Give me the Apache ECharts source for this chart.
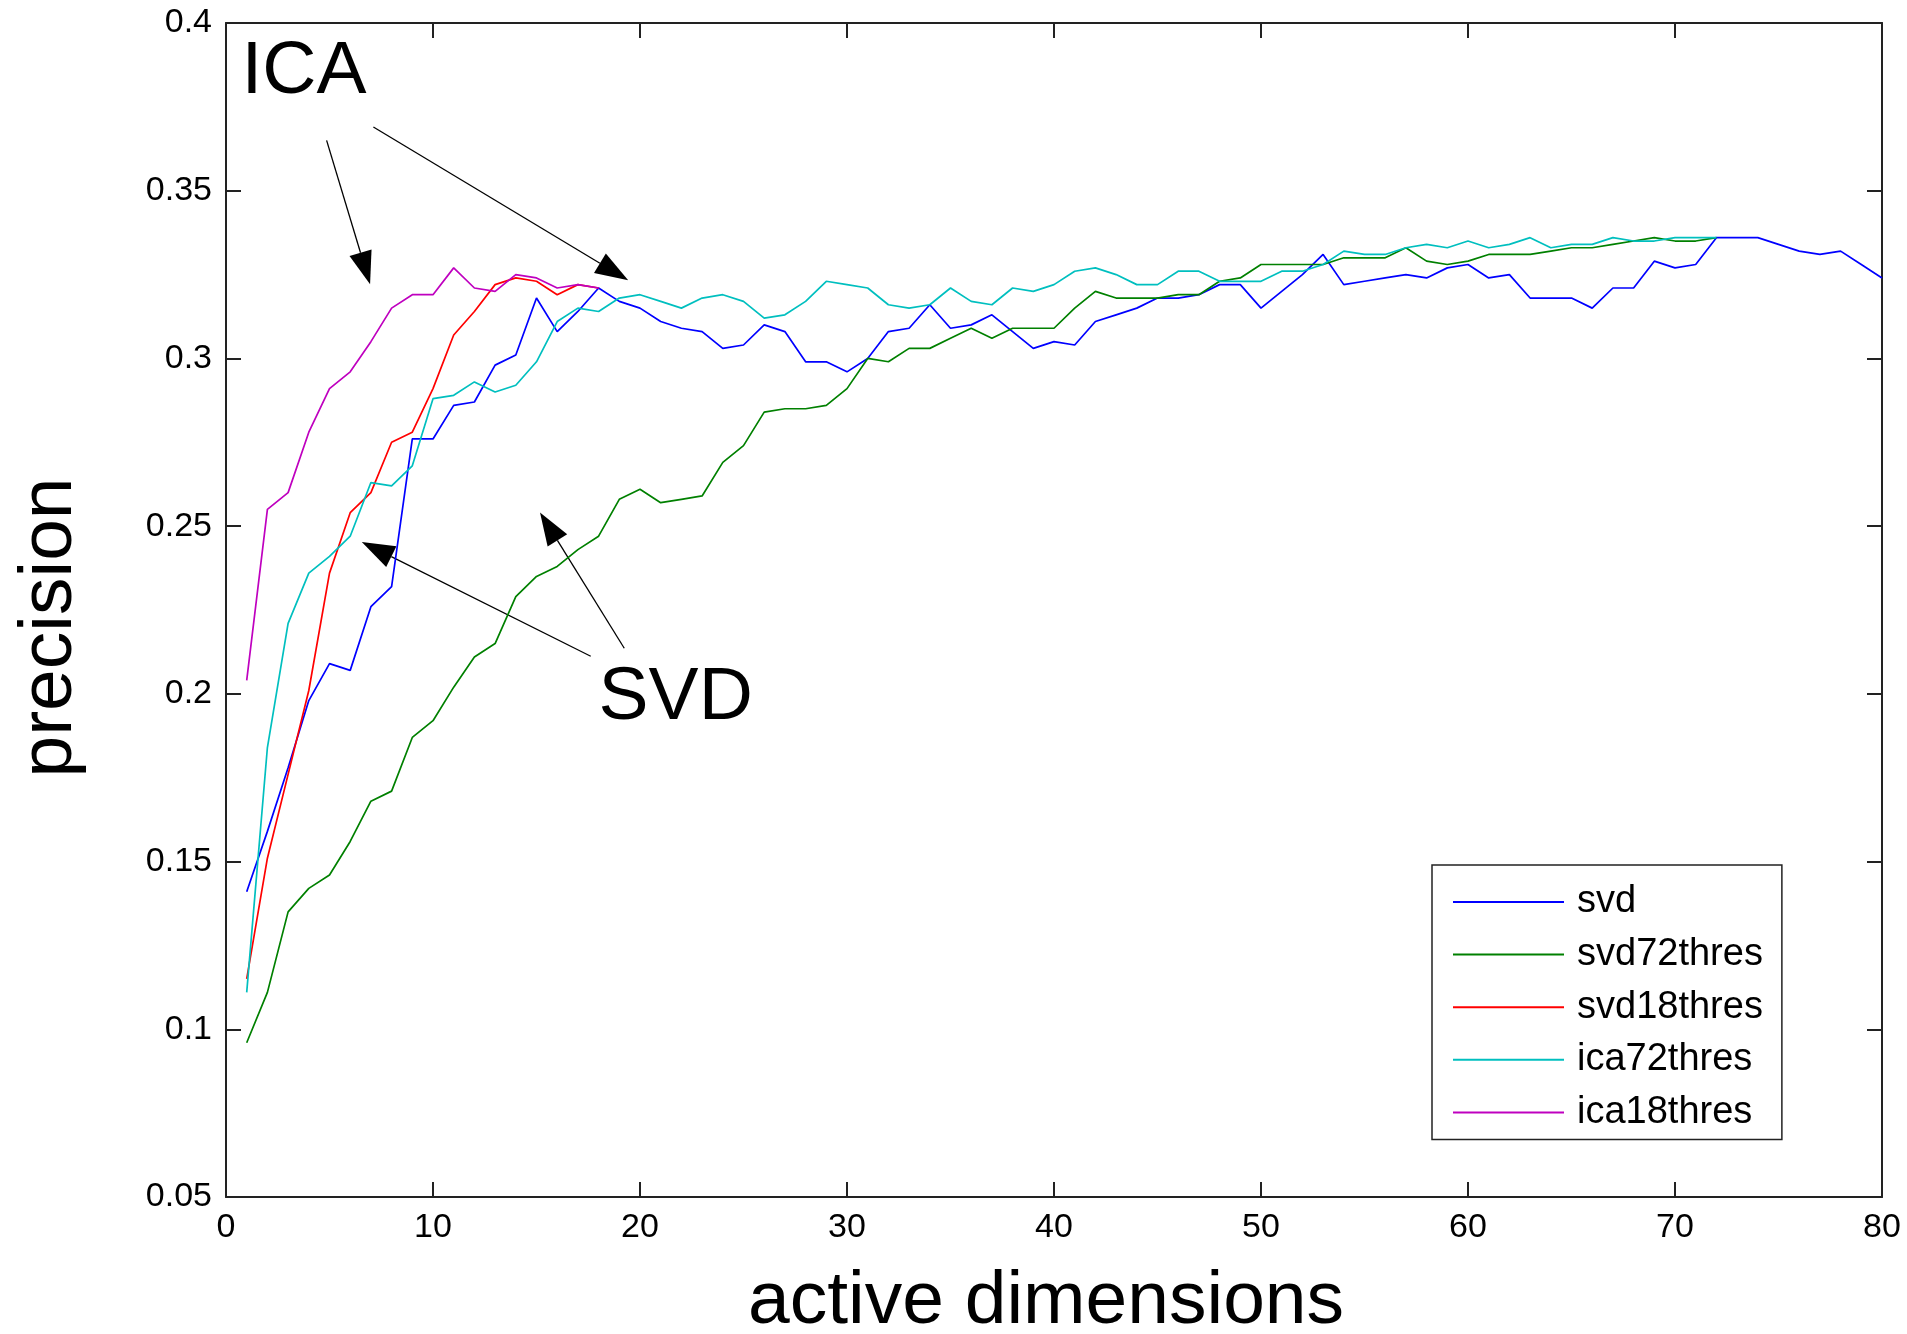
<!DOCTYPE html>
<html>
<head>
<meta charset="utf-8">
<script src="https://cdn.jsdelivr.net/npm/echarts@6/dist/echarts.min.js"></script>
<style>
html, body { margin: 0; padding: 0; background: #fff; }
#main { width: 1907px; height: 1334px; }
</style>
</head>
<body>
<div id="main"></div>
<script>
// names, in drawing order (last one on top)
let SERIES_NAMES = ['svd', 'svd72thres', 'svd18thres', 'ica72thres', 'ica18thres'];
let SERIES_COLORS = ['#0000ff', '#008000', '#ff0000', '#00bfbf', '#bf00bf'];

// precision per number of active dimensions, starting at 1
let svd = [
    0.141, 0.159, 0.178, 0.198, 0.209, 0.207, 0.226, 0.232, 0.276, 0.276,
    0.286, 0.287, 0.298, 0.301, 0.318, 0.308, 0.314, 0.321, 0.317, 0.315,
    0.311, 0.309, 0.308, 0.303, 0.304, 0.310, 0.308, 0.299, 0.299, 0.296,
    0.300, 0.308, 0.309, 0.316, 0.309, 0.310, 0.313, 0.308, 0.303, 0.305,
    0.304, 0.311, 0.313, 0.315, 0.318, 0.318, 0.319, 0.322, 0.322, 0.315,
    0.320, 0.325, 0.331, 0.322, 0.323, 0.324, 0.325, 0.324, 0.327, 0.328,
    0.324, 0.325, 0.318, 0.318, 0.318, 0.315, 0.321, 0.321, 0.329, 0.327,
    0.328, 0.336, 0.336, 0.336, 0.334, 0.332, 0.331, 0.332, 0.328, 0.324
];
let svd72thres = [
    0.096, 0.111, 0.135, 0.142, 0.146, 0.156, 0.168, 0.171, 0.187, 0.192,
    0.202, 0.211, 0.215, 0.229, 0.235, 0.238, 0.243, 0.247, 0.258, 0.261,
    0.257, 0.258, 0.259, 0.269, 0.274, 0.284, 0.285, 0.285, 0.286, 0.291,
    0.300, 0.299, 0.303, 0.303, 0.306, 0.309, 0.306, 0.309, 0.309, 0.309,
    0.315, 0.320, 0.318, 0.318, 0.318, 0.319, 0.319, 0.323, 0.324, 0.328,
    0.328, 0.328, 0.328, 0.330, 0.330, 0.330, 0.333, 0.329, 0.328, 0.329,
    0.331, 0.331, 0.331, 0.332, 0.333, 0.333, 0.334, 0.335, 0.336, 0.335,
    0.335, 0.336
];
let svd18thres = [
    0.115, 0.151, 0.176, 0.201, 0.236, 0.254, 0.260, 0.275, 0.278, 0.291,
    0.307, 0.314, 0.322, 0.324, 0.323, 0.319, 0.322, 0.321
];
let ica72thres = [
    0.111, 0.184, 0.221, 0.236, 0.241, 0.247, 0.263, 0.262, 0.268, 0.288,
    0.289, 0.293, 0.290, 0.292, 0.299, 0.311, 0.315, 0.314, 0.318, 0.319,
    0.317, 0.315, 0.318, 0.319, 0.317, 0.312, 0.313, 0.317, 0.323, 0.322,
    0.321, 0.316, 0.315, 0.316, 0.321, 0.317, 0.316, 0.321, 0.320, 0.322,
    0.326, 0.327, 0.325, 0.322, 0.322, 0.326, 0.326, 0.323, 0.323, 0.323,
    0.326, 0.326, 0.328, 0.332, 0.331, 0.331, 0.333, 0.334, 0.333, 0.335,
    0.333, 0.334, 0.336, 0.333, 0.334, 0.334, 0.336, 0.335, 0.335, 0.336,
    0.336, 0.336
];
let ica18thres = [
    0.204, 0.255, 0.260, 0.278, 0.291, 0.296, 0.305, 0.315, 0.319, 0.319,
    0.327, 0.321, 0.320, 0.325, 0.324, 0.321, 0.322, 0.321
];
let SERIES_VALUES = [svd, svd72thres, svd18thres, ica72thres, ica18thres];

// axis ranges / ticks
let X_MIN = 0, X_MAX = 80, X_STEP = 10;
let Y_MIN = 0.05, Y_MAX = 0.4, Y_STEP = 0.05;

// annotations, in data coordinates: [tail, tip]
let ARROWS = [
    [[4.86, 0.365], [6.96, 0.3221]],
    [[7.12, 0.369], [19.43, 0.3233]],
    [[17.62, 0.2112], [6.56, 0.2453]],
    [[19.24, 0.2136], [15.17, 0.2541]]
];
// text anchor = left edge / top of capitals
let LABELS = [
    {text: 'ICA', at: [0.75, 0.3935]},
    {text: 'SVD', at: [18.0, 0.207]}
];

let FONT = '"Liberation Sans", Arial, Helvetica, sans-serif';
let AXIS_COLOR = '#222';

function toPairs(values) {
    let pairs = [];
    for (let i = 0; i < values.length; i++) {
        pairs.push([i + 1, values[i]]);
    }
    return pairs;
}

function tickFmt(v) {
    return String(parseFloat(v.toFixed(2)));
}

// axis used for the box (top / right), ticks only
function boxAxis(position, min, max, step) {
    return {
        type: 'value',
        position: position,
        min: min,
        max: max,
        interval: step,
        axisLine: {show: true, onZero: false, lineStyle: {color: AXIS_COLOR, width: 2}},
        axisTick: {show: true, inside: true, length: 15, lineStyle: {color: AXIS_COLOR, width: 2}},
        axisLabel: {show: false},
        splitLine: {show: false}
    };
}

let series = [];
for (let i = 0; i < SERIES_NAMES.length; i++) {
    series.push({
        name: SERIES_NAMES[i],
        type: 'line',
        data: toPairs(SERIES_VALUES[i]),
        symbol: 'none',
        showSymbol: false,
        color: SERIES_COLORS[i],
        lineStyle: {color: SERIES_COLORS[i], width: 1.7},
        xAxisIndex: 0,
        yAxisIndex: 0,
        animation: false
    });
}

option = {
    backgroundColor: '#fff',
    animation: false,
    grid: {left: 226, right: 25, top: 23, bottom: 137, containLabel: false, outerBoundsMode: 'none'},
    legend: {
        orient: 'vertical',
        left: 1432,
        top: 865,
        padding: [18, 19, 8, 21],
        itemGap: 14.6,
        itemWidth: 111,
        itemHeight: 2,
        icon: 'rect',
        borderColor: AXIS_COLOR,
        borderWidth: 1.5,
        backgroundColor: '#fff',
        textStyle: {fontFamily: FONT, fontSize: 38, color: '#000', padding: [0, 0, 0, 8]},
        data: SERIES_NAMES
    },
    xAxis: [
        {
            type: 'value',
            position: 'bottom',
            min: X_MIN,
            max: X_MAX,
            interval: X_STEP,
            name: 'active dimensions',
            nameLocation: 'middle',
            nameGap: 68,
            nameTextStyle: {fontFamily: FONT, fontSize: 75, color: '#000', padding: [0, 16, 0, 0]},
            axisLine: {show: true, onZero: false, lineStyle: {color: AXIS_COLOR, width: 2}},
            axisTick: {show: true, inside: true, length: 15, lineStyle: {color: AXIS_COLOR, width: 2}},
            axisLabel: {fontFamily: FONT, fontSize: 34, color: '#000', margin: 14},
            splitLine: {show: false}
        },
        boxAxis('top', X_MIN, X_MAX, X_STEP)
    ],
    yAxis: [
        {
            type: 'value',
            position: 'left',
            min: Y_MIN,
            max: Y_MAX,
            interval: Y_STEP,
            name: 'precision',
            nameLocation: 'middle',
            nameGap: 138,
            nameTextStyle: {fontFamily: FONT, fontSize: 75, color: '#000', padding: [0, 35, 0, 0]},
            axisLine: {show: true, onZero: false, lineStyle: {color: AXIS_COLOR, width: 2}},
            axisTick: {show: true, inside: true, length: 15, lineStyle: {color: AXIS_COLOR, width: 2}},
            axisLabel: {fontFamily: FONT, fontSize: 34, color: '#000', margin: 14, formatter: tickFmt},
            splitLine: {show: false}
        },
        boxAxis('right', Y_MIN, Y_MAX, Y_STEP)
    ],
    series: series
};

let myChart = echarts.init(document.getElementById('main'), null, {renderer: 'canvas'});
myChart.setOption(option);

// arrows + big labels, placed through the grid's coordinate system
let HEAD_LEN = 33, HEAD_HALF = 11.5;
function arrowGraphic(from, to) {
    let p0 = myChart.convertToPixel({gridIndex: 0}, from);
    let p1 = myChart.convertToPixel({gridIndex: 0}, to);
    let dx = p1[0] - p0[0], dy = p1[1] - p0[1];
    let len = Math.sqrt(dx * dx + dy * dy);
    let ux = dx / len, uy = dy / len;
    let bx = p1[0] - ux * HEAD_LEN, by = p1[1] - uy * HEAD_LEN;
    return [
        {type: 'line', silent: true,
            shape: {x1: p0[0], y1: p0[1], x2: bx, y2: by},
            style: {stroke: '#000', lineWidth: 1.3}},
        {type: 'polygon', silent: true,
            shape: {points: [[p1[0], p1[1]], [bx - uy * HEAD_HALF, by + ux * HEAD_HALF], [bx + uy * HEAD_HALF, by - ux * HEAD_HALF]]},
            style: {fill: '#000'}}
    ];
}

let elements = [];
ARROWS.forEach(function (a) {
    elements = elements.concat(arrowGraphic(a[0], a[1]));
});
LABELS.forEach(function (l) {
    let p = myChart.convertToPixel({gridIndex: 0}, l.at);
    elements.push({
        type: 'text', silent: true,
        x: p[0], y: p[1] - 10,
        style: {text: l.text, font: '75px ' + FONT, fill: '#000', align: 'left', verticalAlign: 'top'}
    });
});
myChart.setOption({graphic: {elements: elements}});
</script>
</body>
</html>
